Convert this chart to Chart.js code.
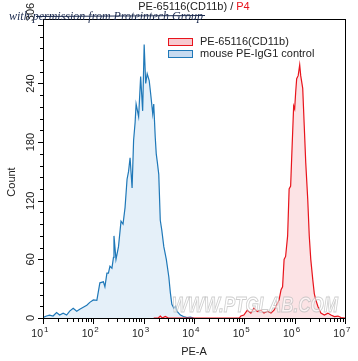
<!DOCTYPE html>
<html><head><meta charset="utf-8">
<script src="https://cdn.jsdelivr.net/npm/chart.js@4/dist/chart.umd.min.js"></script>
<style>html,body{margin:0;padding:0;background:#fff;}canvas{display:block;}</style>
</head><body>
<canvas id="c" width="358" height="361"></canvas>
<script>
// ---- text ----
const titleMain = 'PE-65116(CD11b) / ';
const titleGate = 'P4';
const xAxisTitle = 'PE-A';
const yAxisTitle = 'Count';
const seriesNames = ['PE-65116(CD11b)', 'mouse PE-IgG1 control'];
const watermarkTop = 'with permission from Proteintech Group';
const watermarkSite = 'WWW.PTGLAB.COM';

// ---- axes ----
const xTickExponents = [1, 2, 3, 4, 5, 6, 7];
const yTickValues = [0, 60, 120, 180, 240];
const yMax = 306;
const yTopLabel = '306';

// ---- series: PE-A position as log10 exponent, and count ----
const redExp = [3.20, 3.29, 3.33, 3.37, 3.43, 3.49, 3.55, 4.90, 4.93, 4.99, 5.06, 5.13, 5.19, 5.26, 5.33, 5.39, 5.46, 5.53, 5.59, 5.63, 5.69, 5.73, 5.76, 5.79, 5.82, 5.86, 5.89, 5.92, 5.94, 5.98, 6.00, 6.02, 6.04, 6.07, 6.10, 6.12, 6.16, 6.19, 6.22, 6.26, 6.29, 6.32, 6.36, 6.39, 6.42, 6.46, 6.52, 6.59, 6.66, 6.72, 6.79, 6.86, 6.92, 7.00];
const redCount = [0, 0, 2, 0, 1.5, 0, 0, 0, 2, 3, 8, 5, 10, 6.5, 8, 5, 7, 5, 8, 12, 18.5, 29, 32, 60, 63, 84, 132, 135, 163, 217, 214, 231, 245, 248, 259, 248, 235, 197, 159, 121, 84, 60, 39, 25, 18.5, 12, 5, 3, 5, 3, 1.5, 2, 0.5, 0];

const blueExp = [1.00, 1.07, 1.13, 1.20, 1.27, 1.33, 1.40, 1.47, 1.53, 1.60, 1.67, 1.73, 1.80, 1.87, 1.93, 2.00, 2.07, 2.13, 2.20, 2.23, 2.27, 2.30, 2.33, 2.37, 2.40, 2.41, 2.45, 2.50, 2.55, 2.59, 2.63, 2.67, 2.70, 2.73, 2.77, 2.80, 2.83, 2.85, 2.90, 2.94, 2.98, 3.01, 3.04, 3.07, 3.11, 3.14, 3.18, 3.20, 3.23, 3.25, 3.27, 3.30, 3.33, 3.36, 3.40, 3.45, 3.50, 3.53, 3.56, 3.60, 3.63, 3.66, 3.73, 3.79, 3.86, 3.93, 3.99];
const blueCount = [0.5, 2, 3, 2, 5.5, 3, 5, 3, 7, 10, 7, 9, 11, 13, 16, 18.5, 18, 36, 37, 32, 46, 46, 53, 51, 62, 84, 60, 73, 99, 96, 113, 142, 150, 164, 133, 182, 200, 219, 206, 247, 212, 280, 240, 250, 243, 229, 209, 219, 185, 168, 160, 147, 100, 90, 73, 60, 42, 26, 14, 10, 12, 7, 3, 1.5, 0.5, 1, 0];

const toPoints = (ex, cnt) => ex.map((e, i) => ({ x: Math.pow(10, e), y: cnt[i] }));

const decoPlugin = {
  id: 'deco',
  afterDraw(chart) {
    const ctx = chart.ctx, a = chart.chartArea, xs = chart.scales.x, ys = chart.scales.y;
    const FONT = '"Liberation Sans", Arial, sans-serif';
    ctx.save();
    // site watermark, fitted to its span in the reference
    ctx.save();
    ctx.font = 'italic bold 22px ' + FONT;
    ctx.textAlign = 'left'; ctx.textBaseline = 'alphabetic';
    const wmW = ctx.measureText(watermarkSite).width;
    ctx.translate(172, 312);
    ctx.scale(166 / wmW, 1);
    ctx.fillStyle = 'rgba(255,255,255,0.55)';
    ctx.strokeStyle = 'rgba(185,185,185,0.7)'; ctx.lineWidth = 1;
    ctx.fillText(watermarkSite, 0, 0);
    ctx.strokeText(watermarkSite, 0, 0);
    ctx.restore();

    // frame
    const L = Math.round(a.left), R = Math.round(a.right), T = Math.round(a.top), B = Math.round(a.bottom);
    ctx.strokeStyle = '#000'; ctx.lineWidth = 1;
    ctx.strokeRect(L + 0.5, T + 0.5, R - L, B - T);

    // y ticks
    ctx.beginPath();
    for (let v = 0; v <= yMax; v += 12) {
      const py = Math.round(ys.getPixelForValue(v)) + 0.5;
      const len = v % 60 === 0 ? 5 : 3;
      ctx.moveTo(L, py); ctx.lineTo(L - len, py);
    }
    // x ticks
    for (let e = xTickExponents[0]; e <= xTickExponents[xTickExponents.length - 1]; e++) {
      for (let m = 1; m <= 9; m++) {
        if (e === xTickExponents[xTickExponents.length - 1] && m > 1) break;
        const px = Math.round(xs.getPixelForValue(m * Math.pow(10, e))) + 0.5;
        const len = m === 1 ? 5 : 3;
        ctx.moveTo(px, B + 1); ctx.lineTo(px, B + 1 + len);
      }
    }
    ctx.stroke();

    // y labels (rotated)
    ctx.fillStyle = '#222';
    ctx.font = '11px ' + FONT;
    ctx.textAlign = 'center'; ctx.textBaseline = 'middle';
    const drawRot = (txt, x, y) => { ctx.save(); ctx.translate(x, y); ctx.rotate(-Math.PI / 2); ctx.fillText(txt, 0, 0); ctx.restore(); };
    yTickValues.forEach(v => drawRot(String(v), 31, ys.getPixelForValue(v)));
    drawRot(yTopLabel, 31, T - 7);

    // x labels 10^n
    xTickExponents.forEach(e => {
      const px = xs.getPixelForValue(Math.pow(10, e));
      ctx.font = '10.5px ' + FONT; ctx.textAlign = 'right'; ctx.textBaseline = 'alphabetic';
      ctx.fillText('10', px, 337);
      ctx.font = '8px ' + FONT; ctx.textAlign = 'left';
      ctx.fillText(String(e), px + 1, 332);
    });

    // axis titles
    ctx.font = '11px ' + FONT; ctx.textAlign = 'center'; ctx.textBaseline = 'middle';
    ctx.fillText(xAxisTitle, (a.left + a.right) / 2, 352);
    drawRot(yAxisTitle, 12, 182);

    // title with red gate name
    ctx.font = '11px ' + FONT; ctx.textBaseline = 'middle'; ctx.textAlign = 'left';
    const w1 = ctx.measureText(titleMain).width, w2 = ctx.measureText(titleGate).width;
    const tx = (a.left + a.right) / 2 - (w1 + w2) / 2;
    ctx.fillStyle = '#222'; ctx.fillText(titleMain, tx, 7);
    ctx.fillStyle = '#e8141c'; ctx.fillText(titleGate, tx + w1, 7);

    // legend
    chart.data.datasets.forEach((ds, i) => {
      const cy = 42 + i * 12;
      ctx.fillStyle = ds.legendFill; ctx.strokeStyle = ds.borderColor; ctx.lineWidth = 1;
      ctx.fillRect(168.5, cy - 3.5, 24, 7);
      ctx.strokeRect(168.5, cy - 3.5, 24, 7);
      ctx.fillStyle = '#222'; ctx.font = '11px ' + FONT; ctx.textAlign = 'left'; ctx.textBaseline = 'middle';
      ctx.fillText(ds.label, 200, cy);
    });

    // permission watermark
    ctx.font = 'italic 12px "Liberation Serif", "DejaVu Serif", serif';
    ctx.fillStyle = '#1b2a4e'; ctx.textAlign = 'left'; ctx.textBaseline = 'alphabetic';
    ctx.fillText(watermarkTop, 9, 20);
    ctx.strokeStyle = '#1b2a4e'; ctx.lineWidth = 1;
    ctx.beginPath(); ctx.moveTo(36, 16.5); ctx.lineTo(205, 15.5); ctx.stroke();
    ctx.restore();
  }
};

new Chart(document.getElementById('c'), {
  type: 'line',
  data: {
    datasets: [
      { label: seriesNames[0], data: toPoints(redExp, redCount), borderColor: '#e8141c', backgroundColor: 'rgba(252,222,225,0.85)', legendFill: '#f7c9cf', fill: 'origin', borderWidth: 1.2, pointRadius: 0, tension: 0 },
      { label: seriesNames[1], data: toPoints(blueExp, blueCount), borderColor: '#1f78b8', backgroundColor: 'rgba(226,238,248,0.9)', legendFill: '#c6daf0', fill: 'origin', borderWidth: 1.2, pointRadius: 0, tension: 0 }
    ]
  },
  options: {
    responsive: false, animation: false, devicePixelRatio: 1,
    layout: { padding: { left: 43, right: 13, top: 19, bottom: 43 } },
    plugins: { legend: { display: false }, title: { display: false }, tooltip: { enabled: false } },
    scales: {
      x: { type: 'logarithmic', min: 10, max: 1e7, display: false },
      y: { type: 'linear', min: 0, max: yMax, display: false }
    }
  },
  plugins: [decoPlugin]
});
</script>
</body></html>
